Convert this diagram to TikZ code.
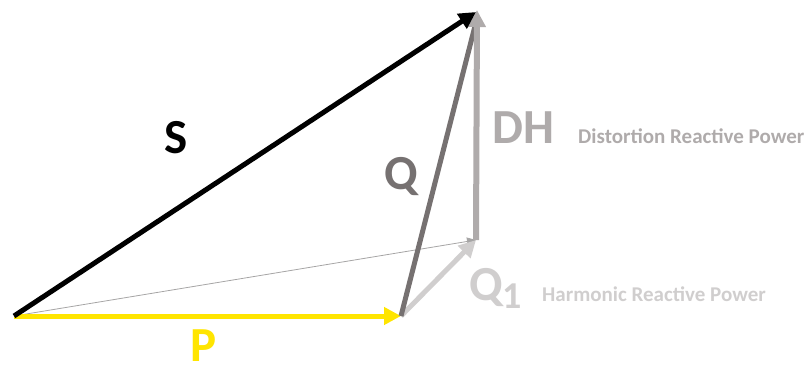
\documentclass[tikz,border=0pt]{standalone}
\usepackage{fontspec}
\setmainfont{Carlito}
\usepackage{xcolor}
\usetikzlibrary{arrows.meta,calc}

\definecolor{pyellow}{HTML}{FFE500}
\definecolor{qgray}{HTML}{767171}
\definecolor{dhgray}{HTML}{AFABAB}
\definecolor{qonegray}{HTML}{D0CECE}

\tikzset{
  vec/.style={line width=5pt, -{Triangle[length=17pt,width=17pt]}},
  biglabel/.style={font=\fontsize{49}{49}\selectfont\bfseries, inner sep=0pt},
  smalllabel/.style={font=\fontsize{21}{21}\selectfont\bfseries, inner sep=0pt, anchor=base west}
}

\begin{document}
\begin{tikzpicture}[x=1pt,y=-1pt]
        \useasboundingbox (0,0) rectangle (808,365);
        % Points
        \coordinate (o) at (14,316);
        \coordinate (p) at (401,316);
        \coordinate (q1) at (476,240);
        \coordinate (top) at (477,10);

        % Labels
        \node (ls) [biglabel, anchor=base] at (176,153) {S};
        \node (lp) [biglabel, anchor=base, text=pyellow] at (204,361) {P};
        \node (lq) [biglabel, anchor=base, text=qgray] at (401,189) {Q};
        \node (ldh) [biglabel, anchor=base west, text=dhgray] at (492,143) {DH};
        \node (ldist) [smalllabel, text=dhgray] at (578,143) {Distortion Reactive Power};
        \node (lq1) [biglabel, anchor=base west, text=qonegray] at (469,300) {Q\raisebox{-8pt}{\fontsize{38}{38}\selectfont 1}};
        \node (lharm) [smalllabel, text=qonegray] at (542,301) {Harmonic Reactive Power};

        % Arrows
        \draw[line width=0.8pt, draw=qonegray!80!black, -{Triangle[length=9pt,width=8pt]}] (o) -- (q1);
        \draw[vec, draw=pyellow] (o) -- (p);
        \draw[vec, draw=qonegray] (p) -- (q1);
        \draw[line width=5pt, draw=qgray] (p) -- ($(top)+(-2,16)$);
        \draw[vec, draw=dhgray, line width=6pt] (q1) -- (top);
        \draw[vec, draw=black] (o) -- ($(top)+(-1,2)$);

    \end{tikzpicture}
\end{document}
